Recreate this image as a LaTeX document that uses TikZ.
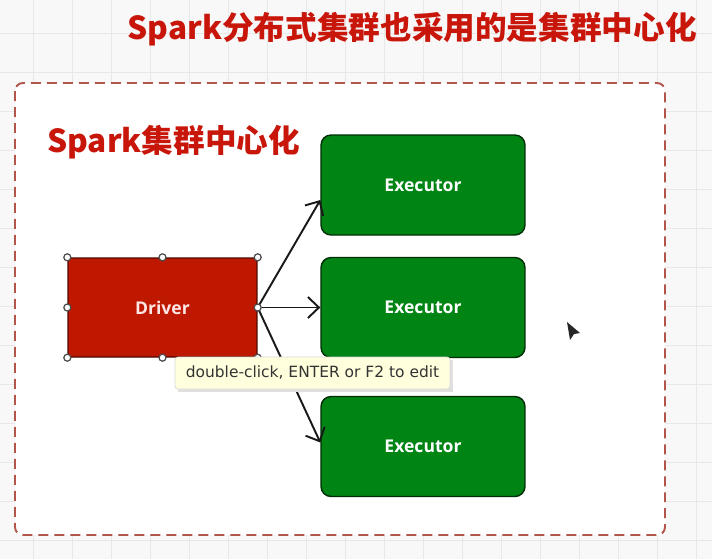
\documentclass[tikz,border=0pt]{standalone}
\usepackage{fontspec}
\setmainfont{Open Sans}
\newfontfamily\cjk{Noto Sans CJK SC}
\newfontfamily\tipfont{DejaVu Sans}
\usetikzlibrary{arrows.meta}
\definecolor{sparkred}{RGB}{200,22,10}
\definecolor{drvred}{RGB}{190,24,0}
\definecolor{exgreen}{RGB}{0,132,20}
\definecolor{dashred}{RGB}{178,86,76}
\definecolor{tipyellow}{RGB}{255,255,222}
\definecolor{canvas}{RGB}{248,248,248}
\definecolor{gridline}{RGB}{232,232,232}

\begin{document}
\begin{tikzpicture}[x=0.02cm, y=-0.02cm,
  headline/.style={text=sparkred, font=\cjk\bfseries\fontsize{18}{18}\selectfont, inner sep=0pt},
  driver/.style={draw=black!60!drvred, fill=drvred, line width=0.8pt, rounded corners=0.05cm,
    minimum width=3.78cm, minimum height=1.98cm, text=white!90!red, font=\bfseries\fontsize{10}{10}\selectfont},
  executor/.style={draw=black!65!exgreen, fill=exgreen, line width=0.8pt, rounded corners=0.2cm,
    minimum width=4.08cm, minimum height=2cm, text=white, font=\bfseries\fontsize{10}{10}\selectfont},
  handle/.style={circle, draw=black!70, fill=white, line width=0.7pt, inner sep=0pt, minimum size=0.14cm},
  link/.style={-{Straight Barb[length=0.22cm, width=0.42cm]}, line width=1.1pt, black!90},
  tip/.style={draw=black!15, fill=tipyellow, rounded corners=0.06cm, minimum width=5.5cm,
    minimum height=0.64cm, text=black!80, font=\tipfont\fontsize{8.8}{8.8}\selectfont}
]

   \useasboundingbox (0,0) rectangle (712,559);
   % canvas with grid
   \fill[canvas] (0,0) rectangle (712,559);
   \foreach \g in {33,72,...,712} \draw[gridline, line width=0.5pt] (\g,0) -- (\g,559);
   \foreach \g in {33,72,...,559} \draw[gridline, line width=0.5pt] (0,\g) -- (712,\g);

   \node[headline, anchor=east] (title) at (697,29) {Spark分布式集群也采用的是集群中心化};

   % cluster frame
   \filldraw[fill=white, draw=dashred, line width=1.1pt, dash pattern=on 0.2cm off 0.12cm,
     rounded corners=0.16cm] (15,83) rectangle (665,535);
   \node[headline, anchor=west] (label) at (47,142) {Spark集群中心化};

   \node[driver] (drv) at (162.5,307.5) {Driver};
   \node[executor] (ex1) at (423,185) {Executor};
   \node[executor] (ex2) at (423,307.5) {Executor};
   \node[executor] (ex3) at (423,446.5) {Executor};

   \draw[link] (drv.east) -- ([yshift=-0.3cm]ex1.west);
   \draw[link] (drv.east) -- (ex2.west);
   \draw[link] (drv.east) -- ([yshift=0.08cm]ex3.west);

   % selection handles
   \foreach \a in {north west, north, north east, west, east, south west, south, south east}
     \node[handle] at (drv.\a) {};

   % tooltip
   \fill[black!12] (178,360) rectangle (453,392);
   \node[tip] (hint) at (312.5,373) {double-click, ENTER or F2 to edit};

   % mouse pointer
   \fill[black!85] (567,322) -- (580,333) -- (574,334) -- (570,340) -- cycle;

\end{tikzpicture}
\end{document}
